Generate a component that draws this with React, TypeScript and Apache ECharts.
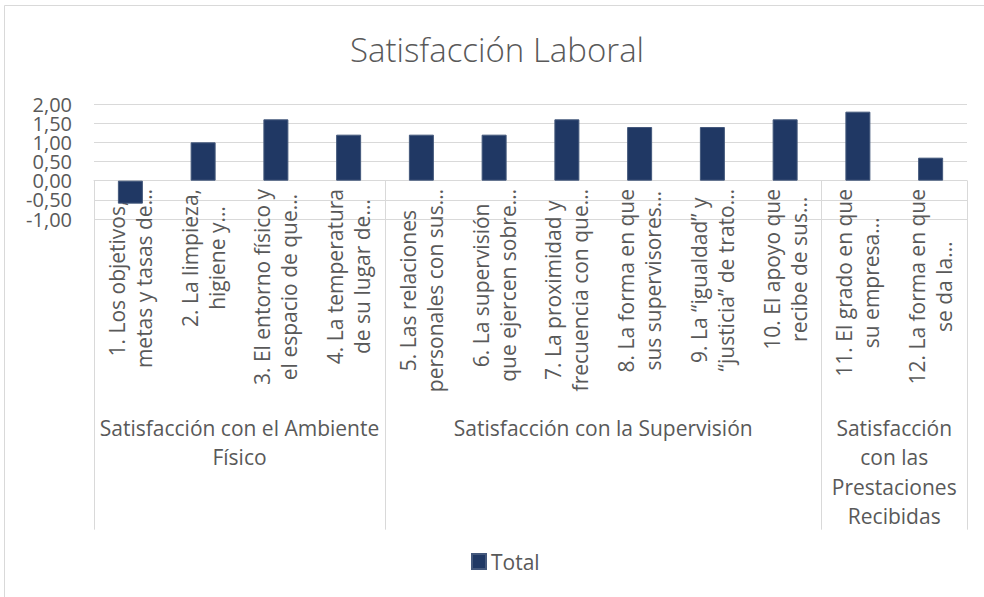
import React, { useEffect, useRef } from 'react';
import * as echarts from 'echarts';

const categories = [
  '1. Los objetivos,\nmetas y tasas de…',
  '2. La limpieza,\nhigiene y…',
  '3. El entorno físico y\nel espacio de que…',
  '4. La temperatura\nde su lugar de…',
  '5. Las relaciones\npersonales con sus…',
  '6. La supervisión\nque ejercen sobre…',
  '7. La proximidad y\nfrecuencia con que…',
  '8. La forma en que\nsus supervisores…',
  '9. La “igualdad” y\n“justicia” de trato…',
  '10. El apoyo que\nrecibe de sus…',
  '11. El grado en que\nsu empresa…',
  '12. La forma en que\nse da la…',
];

const totals = [-0.6, 1.0, 1.6, 1.2, 1.2, 1.2, 1.6, 1.4, 1.4, 1.6, 1.8, 0.6];

const groupNames = [
  'Satisfacción con el Ambiente\nFísico',
  'Satisfacción con la Supervisión',
  'Satisfacción\ncon las\nPrestaciones\nRecibidas',
];
const groupSizes = [4, 6, 2];

const yMin = -1;
const yMax = 2;
const yStep = 0.5;

const FONT = "'Open Sans', sans-serif";
const TEXT = '#595959';
const LINE = '#d9d9d9';

const fmt = (v: number) => v.toFixed(2).replace('.', ',');

export default function App() {
  const ref = useRef<HTMLDivElement>(null);
  useEffect(() => {
    document.body.style.margin = '0';
    if (!ref.current) return;
    const chart = echarts.init(ref.current, undefined, { renderer: 'svg' });

    const starts: number[] = [];
    const centers: Record<number, string> = {};
    let acc = 0;
    groupSizes.forEach((s, i) => {
      starts.push(acc);
      centers[acc + s / 2] = groupNames[i];
      acc += s;
    });
    const total = acc;

    const isEven = (v: number) => Math.abs(Math.round(v / yStep) % 2) === 0;
    const yLabel = {
      margin: 22,
      showMinLabel: true,
      showMaxLabel: true,
      hideOverlap: false,
      fontFamily: FONT,
      fontSize: 20,
      lineHeight: 19,
      color: TEXT,
    };

    chart.setOption({
      animation: false,
      textStyle: { fontFamily: FONT },
      title: {
        text: 'Satisfacción Laboral',
        left: 492,
        textAlign: 'center',
        top: 28,
        textStyle: { fontFamily: FONT, fontSize: 33, fontWeight: 300, color: TEXT },
      },
      legend: {
        data: ['Total'],
        left: 471,
        top: 551,
        padding: 0,
        itemWidth: 14,
        itemHeight: 15,
        icon: 'rect',
        textStyle: { fontFamily: FONT, fontSize: 21, color: TEXT },
      },
      graphic: [
        {
          type: 'polyline',
          silent: true,
          z: -10,
          shape: { points: [[4.5, 597], [4.5, 5.5], [984, 5.5]] },
          style: { fill: 'none', stroke: LINE, lineWidth: 1 },
        },
      ],
      grid: { left: 94, right: 17, top: 104, bottom: 378 },
      xAxis: [
        {
          type: 'category',
          data: categories,
          axisLine: { show: true, onZero: true, lineStyle: { color: LINE, width: 1 } },
          axisTick: {
            show: true,
            length: 349,
            interval: (i: number) => starts.includes(i),
            lineStyle: { color: LINE, width: 1 },
          },
          axisLabel: {
            interval: 0,
            rotate: 90,
            margin: -30,
            formatter: (v: string) => v.split('\n').map((l) => `{c|${l}}`).join('\n'),
            rich: {
              c: { align: 'center', fontFamily: FONT, fontSize: 21, color: TEXT, lineHeight: 27 },
            },
          },
          splitLine: { show: false },
        },
        {
          type: 'value',
          min: 0,
          max: total,
          interval: 1,
          position: 'bottom',
          offset: 186,
          axisLine: { show: false, onZero: false },
          axisTick: { show: false },
          splitLine: { show: false },
          axisLabel: {
            margin: 8,
            showMinLabel: true,
            showMaxLabel: true,
            formatter: (v: number) => centers[v] || '',
            fontFamily: FONT,
            fontSize: 21,
            color: TEXT,
            lineHeight: 29.5,
            align: 'center',
          },
        },
      ],
      yAxis: [
        {
          type: 'value',
          min: yMin,
          max: yMax,
          interval: yStep,
          axisLine: { show: false },
          axisTick: { show: false },
          splitLine: { show: true, lineStyle: { color: LINE, width: 1 } },
          axisLabel: { ...yLabel, formatter: (v: number) => (isEven(v) ? fmt(v) : '') },
        },
        {
          type: 'value',
          position: 'left',
          offset: 0,
          min: yMin,
          max: yMax,
          interval: yStep,
          axisLine: { show: false, onZero: false },
          axisTick: { show: false },
          splitLine: { show: false },
          axisLabel: { ...yLabel, formatter: (v: number) => (isEven(v) ? '' : fmt(v)) },
        },
      ],
      series: [
        {
          name: 'Total',
          type: 'bar',
          xAxisIndex: 0,
          yAxisIndex: 0,
          data: totals,
          barWidth: 25,
          itemStyle: { color: '#203864', borderColor: '#44587c', borderWidth: 1 },
        },
      ],
    });
    return () => chart.dispose();
  }, []);
  return <div ref={ref} style={{ width: 984, height: 597 }} />;
}
